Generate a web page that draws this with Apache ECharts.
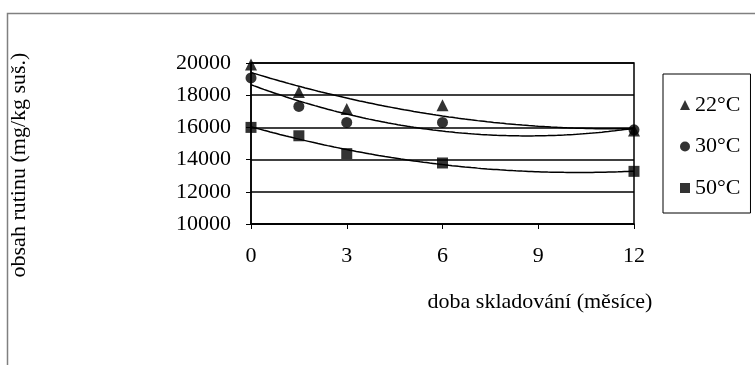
<!DOCTYPE html>
<html>
<head>
<meta charset="utf-8">
<script src="https://cdn.jsdelivr.net/npm/echarts@6/dist/echarts.min.js"></script>
<style>
  html, body { margin: 0; padding: 0; background: #fff; }
  #chart { width: 755px; height: 365px; }
</style>
</head>
<body>
<div id="chart"></div>
<script>
// Storage time (months) at which rutin content was measured
const months = [0, 1.5, 3, 6, 12];

// Rutin content (mg/kg dry matter) per storage temperature
const series22 = [19900, 18200, 17150, 17370, 15800];
const series30 = [19070, 17300, 16310, 16310, 15850];
const series50 = [16000, 15480, 14370, 13790, 13270];

const seriesNames = ['22°C', '30°C', '50°C'];
const seriesSymbols = ['triangle', 'circle', 'rect'];

const xTicks = [0, 3, 6, 9, 12];
const yTicks = [10000, 12000, 14000, 16000, 18000, 20000];

// Least-squares fit of a 2nd-order polynomial y = a + b x + c x^2
function quadFit(xs, ys) {
  let n = xs.length, sx = 0, sx2 = 0, sx3 = 0, sx4 = 0, sy = 0, sxy = 0, sx2y = 0;
  for (let i = 0; i < n; i++) {
    const x = xs[i], y = ys[i];
    sx += x; sx2 += x * x; sx3 += x * x * x; sx4 += x * x * x * x;
    sy += y; sxy += x * y; sx2y += x * x * y;
  }
  // Solve the 3x3 normal equations by Cramer's rule
  const M = [[n, sx, sx2], [sx, sx2, sx3], [sx2, sx3, sx4]];
  const R = [sy, sxy, sx2y];
  const det = m => m[0][0] * (m[1][1] * m[2][2] - m[1][2] * m[2][1])
                 - m[0][1] * (m[1][0] * m[2][2] - m[1][2] * m[2][0])
                 + m[0][2] * (m[1][0] * m[2][1] - m[1][1] * m[2][0]);
  const D = det(M);
  return [0, 1, 2].map(k => {
    const mk = M.map((row, r) => row.map((v, c) => (c === k ? R[r] : v)));
    return det(mk) / D;
  });
}

// Sample the fitted trend curve across the measured time range
function trendPoints(xs, ys) {
  const [a, b, c] = quadFit(xs, ys);
  const pts = [];
  const x0 = xs[0], x1 = xs[xs.length - 1];
  const steps = 120;
  for (let i = 0; i <= steps; i++) {
    const x = x0 + (x1 - x0) * i / steps;
    pts.push([x, a + b * x + c * x * x]);
  }
  return pts;
}

const allSeries = [series22, series30, series50];
const font = '"Liberation Serif", "Times New Roman", serif';
const fs = 22;

const chartSeries = [];
allSeries.forEach((vals, i) => {
  chartSeries.push({
    name: seriesNames[i] + ' trend',
    type: 'line',
    data: trendPoints(months, vals),
    showSymbol: false,
    lineStyle: { color: '#000', width: 1.5 },
    silent: true,
    z: 2
  });
});
allSeries.forEach((vals, i) => {
  chartSeries.push({
    name: seriesNames[i],
    type: 'scatter',
    data: months.map((m, j) => [m, vals[j]]),
    symbol: seriesSymbols[i],
    symbolSize: seriesSymbols[i] === 'triangle' ? 12 : 11,
    itemStyle: { color: '#000' },
    z: 3
  });
});

const chart = echarts.init(document.getElementById('chart'), null, { renderer: 'canvas' });
chart.setOption({
  animation: false,
  backgroundColor: '#fff',
  textStyle: { fontFamily: font, color: '#000' },
  grid: {
    left: 251, top: 63, right: 121, bottom: 141,
    outerBoundsMode: 'none',
    containLabel: false,
    show: true, borderColor: '#000', borderWidth: 1.5
  },
  xAxis: {
    type: 'value',
    min: xTicks[0],
    max: xTicks[xTicks.length - 1],
    interval: 3,
    axisLine: { lineStyle: { color: '#000', width: 1.5 } },
    axisTick: { show: true, length: 5, lineStyle: { color: '#000', width: 1 } },
    axisLabel: { fontFamily: font, fontSize: fs, color: '#000', margin: 21, formatter: v => String(v) },
    splitLine: { show: false },
    name: 'doba skladování (měsíce)',
    nameLocation: 'middle',
    nameGap: 67,
    nameTextStyle: { fontFamily: font, fontSize: fs, color: '#000', padding: [0, 0, 0, 195] }
  },
  yAxis: {
    type: 'value',
    min: yTicks[0],
    max: yTicks[yTicks.length - 1],
    interval: 2000,
    axisLine: { show: true, lineStyle: { color: '#000', width: 1.5 } },
    axisTick: { show: true, length: 5, lineStyle: { color: '#000', width: 1 } },
    axisLabel: { fontFamily: font, fontSize: fs, color: '#000', margin: 20, formatter: v => String(v) },
    splitLine: { show: true, lineStyle: { color: '#000', width: 1.5 } },
    name: 'obsah rutinu (mg/kg suš.)',
    nameLocation: 'middle',
    nameGap: 221,
    nameRotate: 90,
    nameTextStyle: { fontFamily: font, fontSize: fs, color: '#000', padding: [0, 43, 0, 0] }
  },
  legend: {
    data: seriesNames.map((n, i) => ({ name: n, icon: seriesSymbols[i] })),
    orient: 'vertical',
    left: 663,
    top: 74,
    itemWidth: 10,
    itemHeight: 10,
    itemGap: 19.5,
    itemTextGap: 7,
    padding: [20, 10, 14, 17],
    borderColor: '#000',
    borderWidth: 1,
    textStyle: { fontFamily: font, fontSize: fs, color: '#000' },
    selectedMode: false
  },
  graphic: [
    {
      type: 'polyline',
      shape: { points: [[7.5, 365], [7.5, 13.5], [755, 13.5]] },
      style: { stroke: '#808080', lineWidth: 1.5, fill: null },
      silent: true
    }
  ],
  series: chartSeries
});
</script>
</body>
</html>
